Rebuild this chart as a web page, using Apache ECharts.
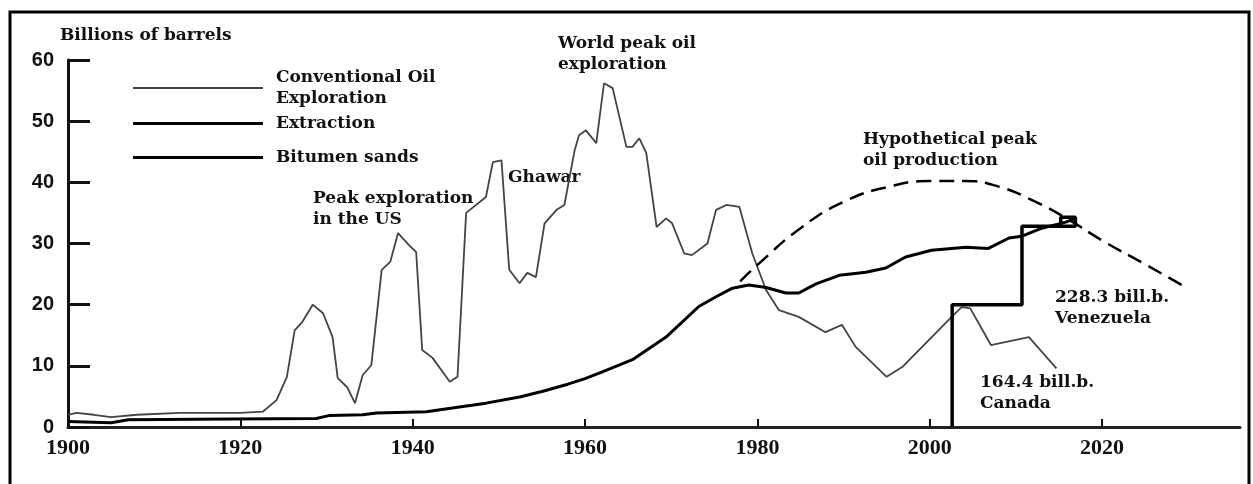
<!DOCTYPE html>
<html>
<head>
<meta charset="utf-8">
<script src="https://cdn.jsdelivr.net/npm/echarts@6/dist/echarts.min.js"></script>
<style>
  html, body { margin: 0; padding: 0; background: #fff; }
  #main { width: 1253px; height: 484px; }
</style>
</head>
<body>
<div id="main"></div>
<script>
// data (years, billions of barrels)
var explorationYears = [1900, 1901, 1903, 1905, 1908, 1913, 1920, 1922.6, 1924.2, 1925.4, 1926.3, 1927.2, 1928.4, 1929.6, 1930.7, 1931.3, 1932.4, 1933.3, 1934.2, 1935.2, 1936.4, 1937.4, 1938.3, 1939.6, 1940.4, 1941.1, 1942.3, 1944.3, 1945.2, 1946.2, 1948.5, 1949.3, 1950.3, 1951.2, 1952.4, 1953.3, 1954.3, 1955.3, 1956.7, 1957.6, 1958.8, 1959.3, 1960.1, 1961.3, 1962.2, 1963.2, 1964.8, 1965.5, 1966.3, 1967.1, 1968.3, 1969.4, 1970.1, 1971.5, 1972.4, 1974.2, 1975.2, 1976.4, 1977.9, 1979.4, 1981.0, 1982.5, 1984.8, 1987.9, 1989.8, 1991.4, 1995.0, 1996.8, 2002.2, 2003.7, 2004.7, 2007.1, 2011.5, 2014.7];
var explorationValues = [2.0, 2.3, 2.0, 1.6, 2.0, 2.3, 2.3, 2.5, 4.4, 8.2, 15.8, 17.2, 20.0, 18.6, 14.7, 8.0, 6.5, 3.9, 8.5, 10.1, 25.7, 27.0, 31.7, 29.7, 28.6, 12.6, 11.3, 7.4, 8.2, 35.0, 37.6, 43.3, 43.6, 25.7, 23.5, 25.2, 24.5, 33.3, 35.5, 36.3, 45.3, 47.7, 48.5, 46.4, 56.2, 55.4, 45.8, 45.8, 47.2, 44.8, 32.7, 34.1, 33.3, 28.4, 28.1, 30.0, 35.5, 36.3, 36.0, 28.4, 22.4, 19.1, 18.0, 15.5, 16.7, 13.1, 8.2, 9.8, 17.5, 19.6, 19.4, 13.4, 14.7, 9.6];

var extractionYears = [1900, 1905, 1907, 1919, 1928.8, 1930.4, 1934.2, 1935.8, 1941.6, 1944.6, 1948.5, 1952.4, 1955, 1958, 1960, 1962, 1965.5, 1969.4, 1973.2, 1975.2, 1977.1, 1979, 1981, 1983.3, 1984.8, 1986.8, 1989.5, 1992.6, 1994.9, 1997.2, 2000.2, 2004.2, 2006.8, 2009.2, 2010.7, 2013, 2015.8, 2016.9];
var extractionValues = [0.9, 0.7, 1.2, 1.3, 1.4, 1.9, 2.0, 2.3, 2.5, 3.1, 3.9, 4.9, 5.8, 7.0, 7.9, 9.0, 11.0, 14.7, 19.7, 21.3, 22.7, 23.2, 22.8, 21.9, 21.9, 23.4, 24.8, 25.3, 26.0, 27.8, 28.9, 29.4, 29.2, 30.9, 31.2, 32.5, 33.5, 34.1];

var peakYears = [1978, 1980, 1985, 1990, 1995, 2000, 2004, 2008, 2012, 2016, 2020, 2025, 2030];
var peakValues = [23.8, 26.5, 32.5, 36.8, 39.2, 40.2, 40.2, 39.3, 37.0, 34.0, 30.5, 26.6, 22.6];

var bitumenYears = [2002.6, 2002.6, 2010.7, 2010.7, 2016.9, 2016.9, 2015.2, 2015.2];
var bitumenValues = [0, 20, 20, 32.8, 32.8, 34.3, 34.3, 32.8];

var xTickYears = [1900, 1920, 1940, 1960, 1980, 2000, 2020];

function pairs(xs, ys) {
    var out = [];
    for (var i = 0; i < xs.length; i++) {
        out.push([xs[i], ys[i]]);
    }
    return out;
}

var labelFont = { fontFamily: 'DejaVu Serif', fontWeight: 'bold', fontSize: 17, color: '#111', lineHeight: 21, padding: [0, 0, 0, 8] };

function note(x, y, text) {
    return {
        type: 'text', left: x, top: y,
        style: { text: text, font: 'bold 17px "DejaVu Serif"', fill: '#111', lineHeight: 21 }
    };
}

var myChart = echarts.init(document.getElementById('main'));

var option = {
    backgroundColor: '#fff',
    animation: false,
    grid: { left: 68, right: 13, top: 60, bottom: 57 },
    legend: [
        { data: ['Conventional Oil Exploration'], left: 128, top: 62, icon: 'rect', itemWidth: 130, itemHeight: 2,
          formatter: function () { return 'Conventional Oil\nExploration'; },
          textStyle: labelFont },
        { data: ['Extraction'], left: 128, top: 108, icon: 'rect', itemWidth: 130, itemHeight: 3,
          textStyle: labelFont },
        { data: ['Bitumen sands'], left: 128, top: 142, icon: 'rect', itemWidth: 130, itemHeight: 3,
          textStyle: labelFont }
    ],
    xAxis: {
        type: 'value', min: 1900, max: 2036, interval: 20,
        axisLine: { lineStyle: { color: '#222', width: 3 } },
        axisTick: { inside: true, length: 8, lineStyle: { color: '#111', width: 2 }, customValues: xTickYears },
        axisLabel: { customValues: xTickYears, margin: 10, color: '#111',
            formatter: function (v) { return String(v); },
            fontFamily: 'Liberation Serif', fontWeight: 'bold', fontSize: 22 },
        splitLine: { show: false }
    },
    yAxis: {
        type: 'value', min: 0, max: 60, interval: 10,
        axisLine: { show: true, lineStyle: { color: '#111', width: 3 } },
        axisTick: { show: true, inside: true, length: 22, lineStyle: { color: '#111', width: 3 } },
        axisLabel: { margin: 14, color: '#111', fontFamily: 'Liberation Sans', fontWeight: 'bold', fontSize: 20 },
        splitLine: { show: false }
    },
    graphic: [
        { type: 'rect', shape: { x: 10, y: 12, width: 1239, height: 500 },
          style: { fill: 'none', stroke: '#000', lineWidth: 3 } },
        note(60, 25, 'Billions of barrels'),
        note(558, 33, 'World peak oil\nexploration'),
        note(313, 188, 'Peak exploration\nin the US'),
        note(508, 167, 'Ghawar'),
        note(863, 129, 'Hypothetical peak\noil production'),
        note(1055, 287, '228.3 bill.b.\nVenezuela'),
        note(980, 372, '164.4 bill.b.\nCanada')
    ],
    series: [
        {
            name: 'Conventional Oil Exploration', type: 'line', symbol: 'none',
            data: pairs(explorationYears, explorationValues),
            itemStyle: { color: '#444' },
            lineStyle: { color: '#444', width: 1.8 }
        },
        {
            name: 'Extraction', type: 'line', symbol: 'none',
            data: pairs(extractionYears, extractionValues),
            itemStyle: { color: '#000' },
            lineStyle: { color: '#000', width: 3 }
        },
        {
            name: 'Hypothetical peak', type: 'line', symbol: 'none', smooth: true,
            data: pairs(peakYears, peakValues),
            lineStyle: { color: '#000', width: 2.5, type: [15, 8] }
        },
        {
            name: 'Bitumen sands', type: 'line', symbol: 'none',
            data: pairs(bitumenYears, bitumenValues),
            itemStyle: { color: '#000' },
            lineStyle: { color: '#000', width: 3.5 }
        }
    ]
};

myChart.setOption(option);
</script>
</body>
</html>
